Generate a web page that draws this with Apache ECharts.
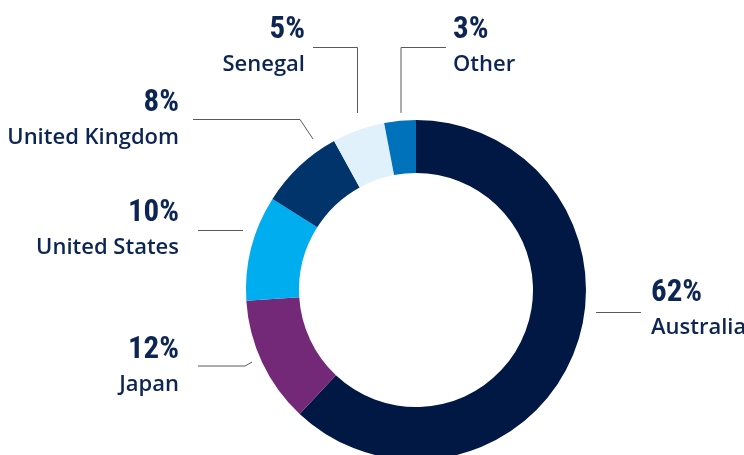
<!DOCTYPE html>
<html>
<head>
<meta charset="utf-8">
<script src="https://cdn.jsdelivr.net/npm/echarts@6/dist/echarts.min.js"></script>
<style>
html,body{margin:0;padding:0;background:#fff;}
#chart{width:744px;height:455px;}
</style>
</head>
<body>
<div id="chart"></div>
<script>
const categories = ['Australia', 'Japan', 'United States', 'United Kingdom', 'Senegal', 'Other'];
const shares = [62, 12, 10, 8, 5, 3];
const colors = ['#021844', '#732878', '#00adef', '#00346b', '#e0f1fb', '#0071bb'];

// label placement (layout only)
const labelPlace = {
  'Australia':      {x: 651, y: 274, align: 'left',  line: [[596, 312.5], [641, 312.5]]},
  'Japan':          {x: 179, y: 331, align: 'right', line: [[198, 366], [245, 366], [252, 362]]},
  'United States':  {x: 179, y: 194, align: 'right', line: [[198, 230.5], [243, 230.5]]},
  'United Kingdom': {x: 179, y: 84,  align: 'right', line: [[193, 119.5], [300, 119.5], [313, 139]]},
  'Senegal':        {x: 305, y: 11,  align: 'right', line: [[313, 47.5], [357.5, 47.5], [357.5, 113]]},
  'Other':          {x: 453, y: 11,  align: 'left',  line: [[401, 113], [401, 47.5], [446, 47.5]]}
};

const chart = echarts.init(document.getElementById('chart'), null, {renderer: 'canvas'});
chart.setOption({
  animation: false,
  series: [{
    type: 'pie',
    center: [416, 290],
    radius: [117, 170],
    startAngle: 90,
    clockwise: true,
    avoidLabelOverlap: false,
    silent: true,
    data: categories.map((c, i) => ({name: c, value: shares[i], itemStyle: {color: colors[i]}})),
    label: {
      show: true,
      position: 'outside',
      formatter: '{p|{c}%}\n{n|{b}}',
      rich: {
        p: {fontFamily: '"Roboto Condensed", "Liberation Sans Narrow", "DejaVu Sans", sans-serif', fontStyle: 'condensed', fontWeight: 'bold', fontSize: 31, lineHeight: 38, color: '#0c2554'},
        n: {fontFamily: '"Open Sans", sans-serif', fontWeight: 600, fontSize: 22, lineHeight: 32, color: '#0c2554'}
      }
    },
    labelLine: {show: true, lineStyle: {color: '#5a5a5a', width: 1}},
    labelLayout: function (params) {
      const p = labelPlace[categories[params.dataIndex]];
      return {x: p.x, y: p.y, align: p.align, verticalAlign: 'top', labelLinePoints: p.line};
    }
  }]
});
</script>
</body>
</html>
